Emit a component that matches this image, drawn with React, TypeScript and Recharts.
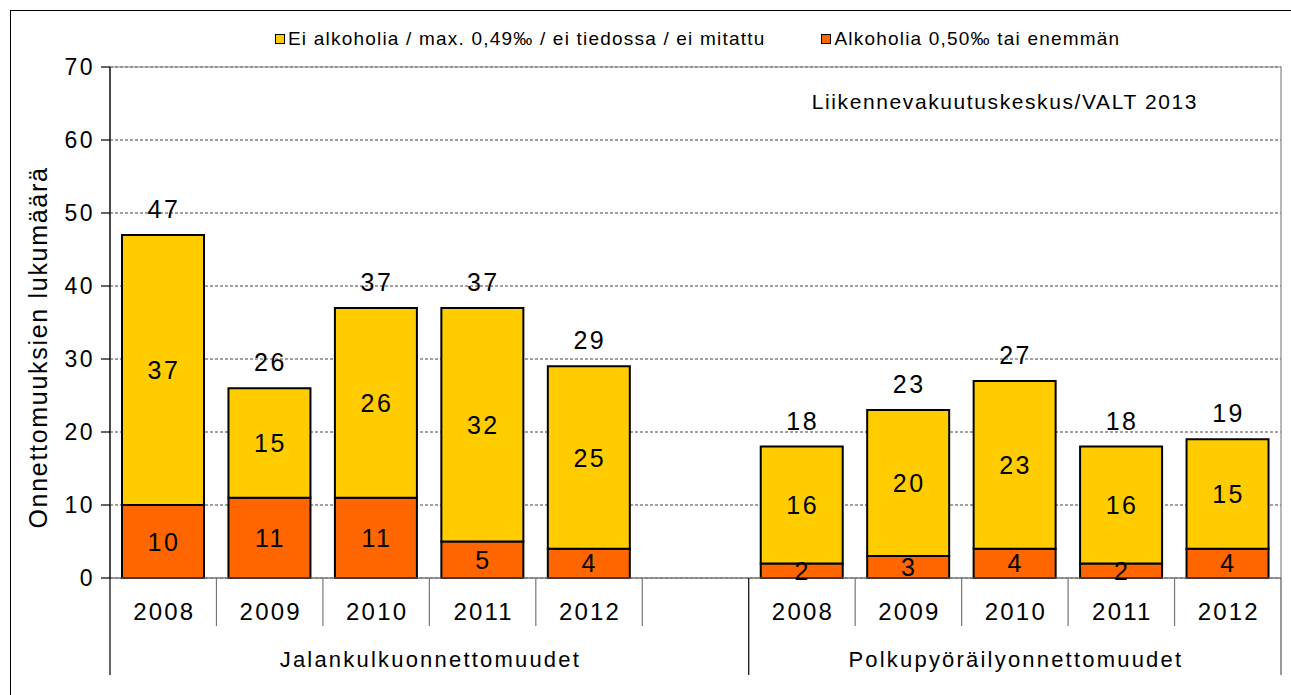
import React from "react";
import {
  BarChart,
  Bar,
  XAxis,
  YAxis,
  CartesianGrid,
  LabelList,
  Legend,
  ReferenceArea,
} from "recharts";

// Categories: two groups of years, with an empty slot between them
const YEARS = ["2008", "2009", "2010", "2011", "2012", "", "2008", "2009", "2010", "2011", "2012"];
const GROUP_OF = [0, 0, 0, 0, 0, 0, 1, 1, 1, 1, 1];
const GROUPS = ["Jalankulkuonnettomuudet", "Polkupyöräilyonnettomuudet"];

// Series values
const NO_ALCOHOL = [37, 15, 26, 32, 25, null, 16, 20, 23, 16, 15];
const ALCOHOL = [10, 11, 11, 5, 4, null, 2, 3, 4, 2, 4];

const Y_TICKS = [0, 10, 20, 30, 40, 50, 60, 70];

const NAME_NO = "Ei alkoholia / max. 0,49‰ / ei tiedossa / ei mitattu";
const NAME_ALC = "Alkoholia 0,50‰ tai enemmän";
const SOURCE = "Liikennevakuutuskeskus/VALT 2013";

const YELLOW = "#ffcc00";
const ORANGE = "#ff6600";
const FONT = "'Liberation Sans', Arial, sans-serif";

const data = YEARS.map((year, i) => ({
  key: String(i),
  year,
  group: GROUP_OF[i],
  alc: ALCOHOL[i],
  noAlc: NO_ALCOHOL[i],
  total:
    ALCOHOL[i] == null || NO_ALCOHOL[i] == null
      ? null
      : (ALCOHOL[i] as number) + (NO_ALCOHOL[i] as number),
}));

const YearTick = (props: any) => {
  const { x, y, payload } = props;
  const i: number = payload.index;
  const half: number = payload.offset || 53;
  const w = half * 2;
  const g = GROUP_OF[i];
  const first = GROUP_OF.indexOf(g);
  const last = GROUP_OF.lastIndexOf(g);
  const isFirst = i === first;
  const isEnd = i === GROUP_OF.length - 1;
  const groupCenter = x - half - (i - first) * w + ((last - first + 1) * w) / 2;
  return (
    <g>
      <line x1={x - half} x2={x - half} y1={y} y2={y + (isFirst ? 97 : 48)} stroke={isFirst ? "#000" : "#777"} strokeWidth={1.2} />
      {isEnd && (
        <line x1={x + half} x2={x + half} y1={y} y2={y + 97} stroke="#555" strokeWidth={1.2} />
      )}
      <text x={x + 1} y={y + 42} textAnchor="middle" fontSize={24} fontFamily={FONT} fill="#000" letterSpacing={2.2}>
        {YEARS[i]}
      </text>
      {isFirst && (
        <text x={groupCenter + 1} y={y + 89} textAnchor="middle" fontSize={22} fontFamily={FONT} fill="#000" letterSpacing={2.2}>
          {GROUPS[g]}
        </text>
      )}
    </g>
  );
};

const centerLabel = (p: any) => {
  const { x, y, width, height, value } = p;
  if (value == null) return null;
  return (
    <text x={x + width / 2 + 1} y={y + height / 2 + 9} textAnchor="middle" fontSize={25} fontFamily={FONT} fill="#000" letterSpacing={2.5}>
      {value}
    </text>
  );
};

const totalLabel = (p: any) => {
  const { x, y, width, value } = p;
  if (value == null) return null;
  return (
    <text x={x + width / 2 + 1} y={y - 17} textAnchor="middle" fontSize={25} fontFamily={FONT} fill="#000" letterSpacing={2.5}>
      {value}
    </text>
  );
};

const renderLegend = () => {
  const items = [
    { name: NAME_NO, color: YELLOW },
    { name: NAME_ALC, color: ORANGE },
  ];
  return (
    <div style={{ display: "flex", gap: 56, fontFamily: FONT, fontSize: 19, alignItems: "center" }}>
      {items.map((it) => (
        <div key={it.name} style={{ display: "flex", alignItems: "center" }}>
          <span
            style={{
              display: "inline-block",
              width: 8,
              height: 8,
              background: it.color,
              border: "1.5px solid #000",
              marginRight: 3,
            }}
          />
          <span style={{ letterSpacing: 1.2 }}>{it.name}</span>
        </div>
      ))}
    </div>
  );
};

export default function App() {
  return (
    <div style={{ position: "absolute", left: 0, top: 0, width: 1291, height: 695, background: "#fff" }}>
      <div
        style={{
          position: "absolute",
          left: 10,
          top: 10,
          width: 1281,
          height: 685,
          borderLeft: "1.5px solid #000",
          borderTop: "1.5px solid #000",
        }}
      />
      <BarChart
        width={1291}
        height={695}
        data={data}
        margin={{ top: 67, right: 10, bottom: 0, left: 0 }}
        barSize={82}
      >
        <CartesianGrid vertical={false} stroke="#444" strokeDasharray="3 2" />
        <ReferenceArea x1="0" x2="10" y1={0} y2={70} fill="none" stroke="#888" strokeWidth={1.2} />
        <XAxis
          dataKey="key"
          interval={0}
          tickSize={0}
          tickMargin={0}
          tickLine={false}
          height={117}
          axisLine={{ stroke: "#777", strokeWidth: 1.2 }}
          tick={<YearTick />}
        />
        <YAxis
          width={110}
          domain={[0, 70]}
          ticks={Y_TICKS}
          interval={0}
          tickSize={9}
          tickMargin={6}
          axisLine={{ stroke: "#000", strokeWidth: 1.2 }}
          tickLine={{ stroke: "#000", strokeWidth: 1.2 }}
          tick={{ fill: "#000", fontSize: 23, fontFamily: FONT, letterSpacing: 2.5 }}
          label={{
            content: (p: any) => {
              const vb = p.viewBox;
              const cx = vb.x + 38;
              const cy = vb.y + vb.height / 2 + 25;
              return (
                <text
                  x={cx}
                  y={cy}
                  transform={`rotate(-90 ${cx} ${cy})`}
                  textAnchor="middle"
                  dominantBaseline="central"
                  fontSize={25}
                  fontFamily={FONT}
                  fill="#000"
                  letterSpacing={1.7}
                >
                  Onnettomuuksien lukumäärä
                </text>
              );
            },
          }}
        />
        <Legend
          verticalAlign="middle"
          align="center"
          content={renderLegend}
          wrapperStyle={{ top: 28, left: 275, width: 1000 }}
        />
        <Bar dataKey="alc" name={NAME_ALC} stackId="a" fill={ORANGE} stroke="#000" strokeWidth={2} isAnimationActive={false}>
          <LabelList dataKey="alc" content={centerLabel} />
        </Bar>
        <Bar dataKey="noAlc" name={NAME_NO} stackId="a" fill={YELLOW} stroke="#000" strokeWidth={2} isAnimationActive={false}>
          <LabelList dataKey="noAlc" content={centerLabel} />
          <LabelList dataKey="total" content={totalLabel} />
        </Bar>
      </BarChart>
      <div
        style={{
          position: "absolute",
          right: 93,
          top: 90,
          fontFamily: FONT,
          fontSize: 21,
          letterSpacing: 1.6,
          whiteSpace: "nowrap",
        }}
      >
        {SOURCE}
      </div>
    </div>
  );
}
